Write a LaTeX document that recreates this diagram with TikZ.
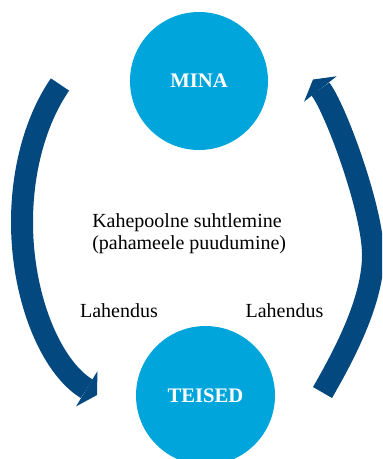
\documentclass[tikz,border=0pt]{standalone}
\usepackage{fontspec}
\setmainfont{Liberation Serif}
\usetikzlibrary{arrows.meta}
\definecolor{ballblue}{RGB}{0,166,219}
\definecolor{bandblue}{RGB}{4,72,128}
\begin{document}
\begin{tikzpicture}[x=0.75pt,y=-0.75pt,
        ball/.style={circle,fill=ballblue,inner sep=0pt,text=white,font=\fontsize{15.5}{18}\selectfont\bfseries},
        band/.style={draw=bandblue,line width=16.5pt,-{Triangle[length=9pt,width=31pt,line width=0pt]}},
        lbl/.style={inner sep=0pt,font=\fontsize{15}{16.5}\selectfont}]
            \clip (0,0) rectangle (382,459);
            \node[ball,minimum size=103.5pt] (mina) at (199,81) {MINA};
            \node[ball,minimum size=104.25pt] (teised) at (205.5,395.5) {TEISED};

            \node[lbl,align=left,anchor=north west] (kahepoolne) at (92,213.5) {Kahepoolne suhtlemine\\(pahameele puudumine)};
            \node[lbl,anchor=base] (lahendus-l) at (119,317) {Lahendus};
            \node[lbl,anchor=base] (lahendus-r) at (284.5,317) {Lahendus};

            \coordinate (l-start) at (60,84.5); \coordinate (l-mid) at (22,222); \coordinate (l-end) at (97,395);
            \coordinate (r-start) at (322.5,392.5); \coordinate (r-mid) at (373,255); \coordinate (r-end) at (313,79.5);

            \draw[band] (l-start) .. controls (35.8,119.6) and (22,169.6) .. (l-mid) .. controls (22,298.6) and (51.3,367.3) .. (l-end);
            \draw[band] (r-start) .. controls (345,353.5) and (373,300) .. (r-mid) .. controls (373,210) and (335.4,108.3) .. (r-end);
        \end{tikzpicture}
\end{document}
